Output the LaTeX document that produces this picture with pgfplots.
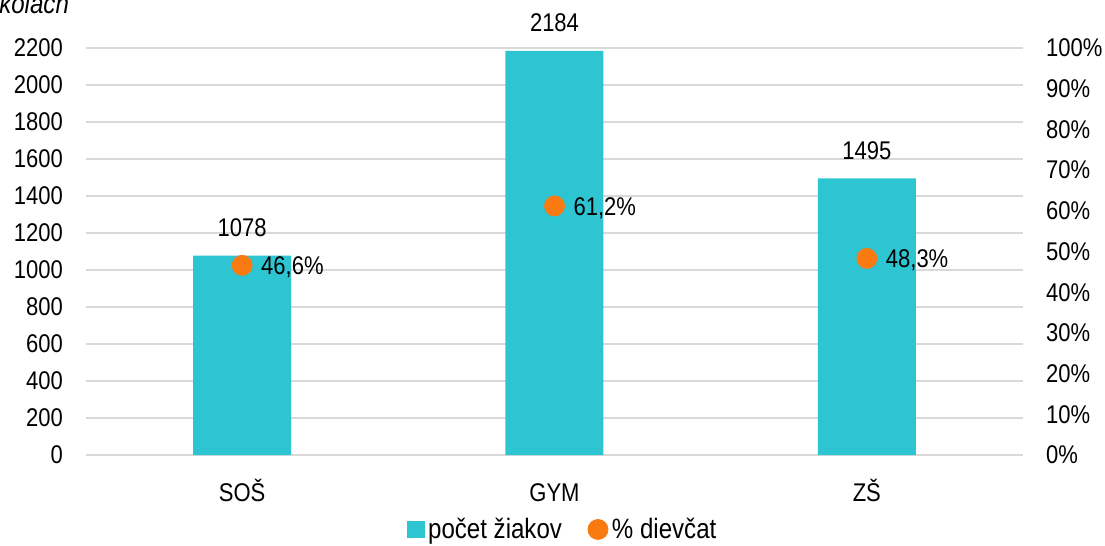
\documentclass[border=0pt]{standalone}
\usepackage{fontspec}
\setmainfont[FakeStretch=0.86]{Liberation Sans}
\usepackage{pgfplots}
\pgfplotsset{compat=1.18}
\definecolor{barcyan}{HTML}{2EC5D2}
\definecolor{dotorange}{HTML}{FA7A12}
\definecolor{gridgray}{HTML}{D9D9D9}
\newcommand{\fnt}{\fontsize{12.8pt}{14pt}\selectfont}
\begin{document}
\begin{tikzpicture}
\pgfplotsset{
  every axis/.append style={
    scale only axis, width=468.5pt, height=203.5pt,
    at={(43pt,-227.5pt)}, anchor=south west,
    xmin=-0.5, xmax=2.5,
    font=\fnt,
    /pgf/number format/assume math mode=true,
    /pgf/number format/1000 sep={},
    tick style={draw=none},
  }
}
\begin{axis}[
  ymin=0, ymax=2200,
  ytick={0,200,...,2200},
  axis line style={draw=none},
  ymajorgrids, grid style={gridgray, line width=1pt},
  xtick={0,1,2}, xticklabels={SOŠ,GYM,ZŠ},
  xticklabel style={anchor=base, yshift=-23pt},
  yticklabel style={xshift=-8pt},
  nodes near coords,
  every node near coord/.append style={font=\fnt, yshift=6pt},
]
\addplot[ybar, bar width=49pt, fill=barcyan, draw=none] coordinates {(0,1078) (1,2184) (2,1495)};
\end{axis}
\begin{axis}[
  ymin=0, ymax=1,
  axis y line*=right, axis x line=none,
  axis line style={draw=none},
  ytick={0,0.1,0.2,0.3,0.4,0.5,0.6,0.7,0.8,0.9,1},
  yticklabels={0\%,10\%,20\%,30\%,40\%,50\%,60\%,70\%,80\%,90\%,100\%},
  yticklabel style={xshift=8pt},
  legend style={at={(0.51,-0.183)}, anchor=center, draw=none, legend columns=2,
    font=\fontsize{14pt}{15pt}\selectfont, inner sep=1pt,
    /tikz/every even column/.append style={column sep=11pt}},
  legend cell align=left,
]
\addlegendimage{only marks, mark=square*, mark size=4.2pt, color=barcyan}
\addlegendentry{počet žiakov}
\addplot[only marks, mark=*, mark size=5pt, color=dotorange,
  point meta=explicit symbolic, nodes near coords,
  every node near coord/.append style={anchor=west, xshift=6pt, yshift=-1pt, text=black, font=\fnt}]
  coordinates {(0,0.466) [46,6\%] (1,0.612) [61,2\%] (2,0.483) [48,3\%]};
\addlegendentry{\% dievčat}
\end{axis}
\node[anchor=base east, font=\fontsize{14pt}{16pt}\selectfont\itshape] at (38pt,-6.5pt) {v školách};
\pgfresetboundingbox
\useasboundingbox (0,0) rectangle (552.5pt,-273pt);
\end{tikzpicture}
\end{document}
